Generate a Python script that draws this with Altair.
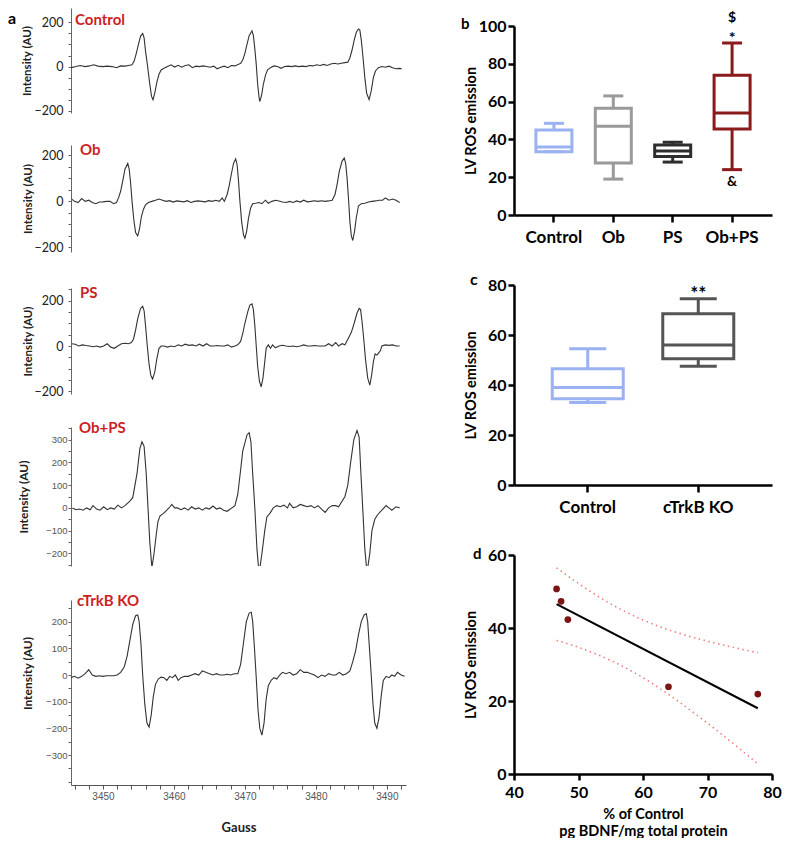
import altair as alt
import pandas as pd

LATO = "Lato"
SANS = "Liberation Sans"
RED = "#cc1f26"

# ---------------- panel a : EPR spectra (Gauss, intensity in AU) ----------------
gauss_domain = [3445.5, 3492.7]
gauss_ticks = list(range(3446, 3493, 2))

spec_control = [
    (3445.5, -5), (3446.2, 0), (3446.8, 5), (3447.5, 0), (3448.1, 3), (3448.7, 8), (3449.3, 2), (3450.0, 0),
    (3450.6, 2), (3451.3, 0), (3451.9, -5), (3452.5, 3), (3453.1, 2), (3453.6, 5),
    (3454.1, 8), (3454.4, 25), (3454.7, 60), (3455.0, 100), (3455.3, 138), (3455.6, 150), (3455.8, 130),
    (3456.0, 70), (3456.3, 0), (3456.6, -80), (3456.85, -135), (3457.05, -150), (3457.3, -120), (3457.6, -70),
    (3457.9, -35), (3458.2, -15), (3458.6, -8),
    (3459.1, 0), (3459.6, 8), (3460.1, -2), (3460.6, 6), (3461.1, -3), (3461.6, 5), (3462.1, 8), (3462.6, -5),
    (3463.1, 2), (3463.6, 0), (3464.1, 3), (3464.6, 0), (3465.1, -3), (3465.6, 2), (3466.1, -10), (3466.6, -3),
    (3467.1, 2), (3467.6, -5), (3468.1, 5), (3468.6, 3), (3469.1, 10), (3469.4, 15),
    (3469.7, 30), (3470.0, 60), (3470.3, 100), (3470.6, 140), (3471.0, 162), (3471.2, 140), (3471.4, 80),
    (3471.6, 10), (3471.8, -80), (3472.0, -140), (3472.1, -158), (3472.35, -130), (3472.6, -80), (3472.9, -40),
    (3473.2, -15), (3473.6, -5),
    (3474.1, 3), (3474.6, 0), (3475.1, -8), (3475.6, 0), (3476.1, 2), (3476.6, 0), (3477.1, 3), (3477.6, 0),
    (3478.1, 2), (3478.6, 0), (3479.1, 5), (3479.6, 3), (3480.1, 8), (3480.6, 5), (3481.1, 10), (3481.6, 5),
    (3482.1, 12), (3482.6, 15), (3483.1, 12), (3483.6, 15), (3484.1, 18), (3484.5, 20),
    (3484.8, 40), (3485.1, 75), (3485.4, 120), (3485.7, 155), (3486.0, 170), (3486.2, 165), (3486.4, 120),
    (3486.65, 40), (3486.9, -50), (3487.15, -120), (3487.5, -150), (3487.8, -110), (3488.1, -50), (3488.4, -20),
    (3488.8, -5),
    (3489.3, 0), (3489.8, -3), (3490.3, 2), (3490.8, -5), (3491.3, -10), (3491.8, -8), (3492.1, -10),
]

spec_ob = [
    (3445.6, 10), (3446.0, 0), (3446.5, -5), (3447.0, 12), (3447.5, 0), (3448.0, 5), (3448.5, -5), (3449.0, -10),
    (3449.5, -3), (3450.0, -2), (3450.5, 0), (3451.0, 0), (3451.5, -10), (3451.9, -5),
    (3452.2, 15), (3452.5, 45), (3452.8, 90), (3453.1, 140), (3453.5, 165), (3453.7, 140), (3453.9, 80),
    (3454.1, 0), (3454.35, -80), (3454.6, -135), (3454.9, -150), (3455.15, -120), (3455.4, -70), (3455.7, -35),
    (3456.0, -15), (3456.4, -5),
    (3456.9, 0), (3457.4, 5), (3457.9, 10), (3458.4, 5), (3458.9, 0), (3459.4, 3), (3459.9, -3), (3460.4, 2),
    (3460.9, 0), (3461.4, -2), (3461.9, 3), (3462.4, -5), (3462.9, 0), (3463.4, 2), (3463.9, 0), (3464.4, -2),
    (3464.9, 3), (3465.4, 0), (3465.9, 5), (3466.4, 0), (3466.8, 15), (3467.1, 0),
    (3467.5, 30), (3467.8, 70), (3468.1, 120), (3468.4, 165), (3468.7, 185), (3468.9, 160), (3469.1, 90),
    (3469.3, 0), (3469.55, -90), (3469.8, -145), (3470.0, -160), (3470.25, -130), (3470.5, -75), (3470.8, -30),
    (3471.1, -10),
    (3471.5, -8), (3472.0, -5), (3472.4, -10), (3472.9, 5), (3473.3, -8), (3473.8, 0), (3474.3, 5), (3474.8, 2),
    (3475.3, -3), (3475.8, -5), (3476.3, 0), (3476.8, -5), (3477.3, 2), (3477.8, -3), (3478.3, 5), (3478.8, -2),
    (3479.3, 0), (3479.8, 3), (3480.3, 0), (3480.8, 3), (3481.3, 0), (3481.8, 2), (3482.3, 5),
    (3482.7, 30), (3483.0, 75), (3483.3, 130), (3483.7, 175), (3484.0, 188), (3484.2, 165), (3484.4, 100),
    (3484.6, 10), (3484.8, -90), (3485.0, -150), (3485.2, -170), (3485.45, -130), (3485.7, -70), (3486.0, -20),
    (3486.4, -10),
    (3486.9, -8), (3487.4, -3), (3487.9, 0), (3488.4, 2), (3488.9, 5), (3489.4, 5), (3489.8, 15), (3490.3, 5),
    (3490.8, 10), (3491.3, 5), (3491.8, -5),
]

spec_ps = [
    (3445.6, 10), (3446.1, 8), (3446.6, 0), (3447.1, 5), (3447.6, 2), (3448.1, 0), (3448.6, -3), (3449.1, 0),
    (3449.6, -5), (3450.1, 0), (3450.6, 10), (3451.1, -5), (3451.6, -10), (3452.1, 0), (3452.6, 10), (3453.1, 12),
    (3453.6, 10), (3454.0, 15),
    (3454.3, 30), (3454.6, 70), (3454.9, 120), (3455.3, 165), (3455.6, 175), (3455.8, 155), (3456.0, 90),
    (3456.25, 0), (3456.5, -80), (3456.75, -130), (3457.0, -145), (3457.3, -115), (3457.6, -55), (3457.9, -10),
    (3458.2, 0),
    (3458.6, 0), (3459.1, -5), (3459.6, 0), (3460.1, -3), (3460.6, 5), (3461.1, 0), (3461.6, 8), (3462.1, 3),
    (3462.6, 5), (3463.1, 0), (3463.6, 8), (3464.1, 0), (3464.6, 10), (3465.1, 0), (3465.6, 0), (3466.1, 2),
    (3466.6, 0), (3467.1, 0), (3467.6, 5), (3468.1, -5), (3468.6, 0), (3469.0, 5),
    (3469.4, 20), (3469.7, 55), (3470.0, 100), (3470.4, 150), (3470.7, 180), (3471.0, 185), (3471.2, 160),
    (3471.4, 90), (3471.6, 0), (3471.8, -90), (3472.05, -155), (3472.3, -180), (3472.55, -140), (3472.8, -70),
    (3473.0, -10), (3473.3, 5),
    (3473.6, -10), (3473.9, 5), (3474.3, -8), (3474.8, 0), (3475.3, 3), (3475.8, 0), (3476.3, -2), (3476.8, 0),
    (3477.3, -3), (3477.8, 0), (3478.3, 5), (3478.8, 0), (3479.3, 0), (3479.8, 2), (3480.3, 0), (3480.8, 0),
    (3481.3, 0), (3481.8, 10), (3482.3, 0), (3482.8, 15), (3483.2, 0), (3483.7, 10), (3484.1, 5),
    (3484.6, 35), (3485.0, 60), (3485.4, 100), (3485.8, 145), (3486.1, 165), (3486.3, 160), (3486.5, 110),
    (3486.75, 30), (3487.0, -60), (3487.3, -140), (3487.6, -172), (3487.85, -130), (3488.1, -70), (3488.35, -35),
    (3488.6, -40), (3488.85, -30), (3489.1, -20), (3489.3, 0), (3489.8, 5), (3490.3, 3), (3490.8, 5),
    (3491.3, 0), (3491.8, 0),
]

spec_obps = [
    (3445.7, 0), (3446.2, -8), (3446.7, -5), (3447.2, -10), (3447.7, 0), (3448.2, -8), (3448.6, 10), (3449.1, -5),
    (3449.6, -10), (3450.1, 5), (3450.6, -8), (3451.1, 0), (3451.6, -5), (3452.1, 12), (3452.6, 0),
    (3453.1, 10), (3453.8, 30), (3454.2, 45), (3454.8, 150), (3455.2, 260), (3455.5, 290), (3455.8, 270),
    (3456.1, 150), (3456.35, 0), (3456.6, -150), (3456.9, -262), (3457.2, -200), (3457.5, -120), (3457.75, -60),
    (3458.05, -35), (3458.5, -25), (3459.0, -10), (3459.45, 5), (3459.7, 15), (3460.1, 0),
    (3460.5, 0), (3461.0, -8), (3461.5, 0), (3462.0, -10), (3462.5, 5), (3463.0, -5), (3463.5, 0), (3464.0, -10),
    (3464.5, 0), (3465.0, -5), (3465.5, 8), (3466.0, -5), (3466.5, 0), (3467.0, -10), (3467.5, -15),
    (3468.6, 10), (3469.0, 60), (3469.3, 140), (3469.7, 250), (3470.3, 320), (3470.6, 330), (3470.85, 290),
    (3471.1, 150), (3471.4, 0), (3471.7, -180), (3472.0, -290), (3472.4, -200), (3472.8, -100), (3473.1, -40),
    (3473.5, -25), (3474.0, 0), (3474.5, 10),
    (3475.0, 5), (3475.5, 12), (3476.0, 0), (3476.3, 20), (3476.8, 0), (3477.3, 5), (3477.8, 15), (3478.3, 10),
    (3478.8, 5), (3479.3, 10), (3479.8, 0), (3480.3, 10), (3480.8, -5), (3481.3, -20), (3481.8, 0), (3482.3, 10),
    (3482.8, 10), (3483.2, 5),
    (3484.1, 50), (3484.5, 100), (3484.9, 200), (3485.35, 300), (3485.8, 340), (3486.1, 310), (3486.35, 150),
    (3486.6, 0), (3486.9, -180), (3487.2, -285), (3487.6, -200), (3487.9, -100), (3488.3, -50), (3488.7, -30),
    (3489.3, -10), (3489.9, 10), (3490.3, 0), (3490.7, -10), (3491.3, 5), (3491.8, 0),
]

spec_ctrkb = [
    (3445.5, -10), (3446.0, -5), (3446.5, -12), (3447.0, -5), (3447.5, 5), (3448.0, 20), (3448.5, 0),
    (3449.0, -5), (3449.5, -3), (3450.0, -5), (3450.5, -3), (3451.0, -3), (3451.5, -3), (3452.0, 0),
    (3452.5, 10), (3453.0, 30),
    (3453.4, 70), (3453.8, 130), (3454.2, 190), (3454.6, 222), (3454.9, 225), (3455.1, 200), (3455.35, 120),
    (3455.6, 0), (3455.9, -110), (3456.2, -180), (3456.5, -195), (3456.8, -150), (3457.1, -80), (3457.4, -35),
    (3457.8, -15), (3458.2, -8),
    (3458.6, -10), (3459.0, -20), (3459.4, -5), (3459.8, -10), (3460.2, 0), (3460.6, -20), (3461.0, -10),
    (3461.5, -5), (3462.0, -5), (3462.5, 0), (3463.0, 5), (3463.5, 0), (3464.0, 15), (3464.5, 10), (3465.0, 5),
    (3465.5, 0), (3466.0, 5), (3466.5, 0), (3467.0, 0), (3467.5, 3), (3468.0, 0), (3468.5, 5), (3469.0, 5),
    (3469.4, 40), (3469.8, 120), (3470.2, 200), (3470.6, 232), (3470.9, 235), (3471.1, 200), (3471.35, 100),
    (3471.6, -10), (3471.85, -130), (3472.1, -200), (3472.4, -225), (3472.7, -180), (3473.0, -90), (3473.3, -40),
    (3473.7, -20), (3474.1, -10),
    (3474.5, -15), (3474.9, 0), (3475.3, 10), (3475.8, 5), (3476.3, 10), (3476.8, 0), (3477.3, 5), (3477.8, 20),
    (3478.3, 10), (3478.8, 10), (3479.3, 5), (3479.8, 0), (3480.3, -10), (3480.8, 0), (3481.3, -5), (3481.8, 5),
    (3482.3, 0), (3482.8, 0), (3483.3, 10), (3483.8, 0), (3484.3, 5), (3484.8, 15),
    (3485.2, 50), (3485.6, 90), (3486.0, 150), (3486.4, 200), (3486.8, 225), (3487.1, 230), (3487.3, 200),
    (3487.55, 100), (3487.8, 0), (3488.05, -110), (3488.3, -180), (3488.6, -200), (3488.9, -160), (3489.2, -80),
    (3489.5, -20), (3489.9, -5),
    (3490.3, -10), (3490.7, 0), (3491.1, -5), (3491.5, 10), (3492.0, 0), (3492.5, -5),
]

yticks_ctrl = [-200, -150, -100, -50, 0, 50, 100, 150, 200]
yticks_std = [-200, -150, -100, -50, 0, 50, 100, 150, 200, 250]
yticks_obps = [-250, -200, -150, -100, -50, 0, 50, 100, 150, 200, 250, 300, 350]
yticks_ctrkb = [-400, -350, -300, -250, -200, -150, -100, -50, 0, 50, 100, 150, 200, 250]

# ---------------- panel b ----------------
b_groups = ["Control", "Ob", "PS", "Ob+PS"]
b_lo = [33.5, 19.0, 28.0, 24.0]
b_q1 = [33.5, 27.5, 31.0, 45.5]
b_med = [36.0, 47.0, 33.8, 54.0]
b_q3 = [45.0, 56.5, 37.0, 74.0]
b_hi = [48.5, 63.0, 38.5, 91.0]
b_colors = ["#9ab1f2", "#9a9a9a", "#2e2e2e", "#8b1a1a"]
b_notes_grp = ["Ob+PS", "Ob+PS", "Ob+PS"]
b_notes_y = [104.0, 93.8, 17.2]
b_notes_txt = ["$", "*", "&"]
b_notes_fs = [14, 16, 14]

# ---------------- panel c ----------------
c_groups = ["Control", "cTrkB KO"]
c_lo = [33.0, 47.5]
c_q1 = [34.5, 50.5]
c_med = [39.0, 56.0]
c_q3 = [46.5, 68.5]
c_hi = [54.5, 74.5]
c_colors = ["#9ab1f2", "#555555"]
c_notes_grp = ["cTrkB KO"]
c_notes_y = [76.6]
c_notes_txt = ["**"]
c_notes_fs = [19]

# ---------------- panel d ----------------
d_bdnf = [46.6, 47.3, 48.35, 63.95, 77.8]
d_ros = [50.7, 47.3, 42.3, 23.9, 21.9]
ci_x = [46.6, 50, 55, 60, 65, 70, 75, 77.8]
ci_upper = [56.5, 52.2, 46.6, 42.2, 38.9, 36.4, 34.3, 33.2]
ci_lower = [36.6, 34.7, 31.1, 26.4, 20.5, 13.9, 6.9, 2.8]

one = pd.DataFrame({"k": [0]})


def spacer(x, y, baseline):
    return alt.Chart(one).mark_text(text=".", opacity=0, fontSize=8, align="left",
                                    baseline=baseline).encode(x=alt.value(x), y=alt.value(y))


def label(txt, x, y, size, color="black", baseline="alphabetic"):
    return alt.Chart(one).mark_text(text=txt, align="left", baseline=baseline, fontSize=size,
                                    fontWeight="bold", font=LATO, color=color).encode(
        x=alt.value(x), y=alt.value(y))


W_A = 335
A_LEFT = -63


def spectrum(pairs, name, h, ydom, yticks, lab_expr, small, top, bottom, title_x, name_x, name_y,
             title_y=None, show_x=False, letter=False):
    df = pd.DataFrame(pairs, columns=["g", "i"])
    if small:
        lab = dict(labelFont=SANS, labelFontSize=9.5, labelColor="#555555", labelPadding=1)
        tfs = 12
    else:
        lab = dict(labelFont=LATO, labelFontSize=12.5, labelColor="#222222", labelPadding=5)
        tfs = 11.5
    ykw = dict(values=yticks, labelExpr=lab_expr, format="d", title="Intensity (AU)", titleFont=LATO,
               titleFontSize=tfs, titleFontWeight="bold", titleColor="#222222", titleX=title_x,
               titleBaseline="middle", titleAngle=270, domainColor="#666666", tickColor="#666666",
               tickSize=3, grid=False, labelFlush=False, labelOverlap=False, **lab)
    if title_y is not None:
        ykw["titleY"] = title_y
    if show_x:
        xaxis = alt.Axis(values=gauss_ticks, labelExpr="datum.value % 10 === 0 ? datum.label : ''",
                         format="d", labelFont=SANS, labelFontSize=10, labelColor="#555555",
                         tickColor="#555555", domainColor="#555555", tickSize=4, labelPadding=2,
                         labelFlush=False, labelOverlap=False, grid=False,
                         title="Gauss", titleFont=LATO, titleFontSize=13, titleFontWeight="bold",
                         titleColor="#222222", titleY=36, titleBaseline="top")
    else:
        xaxis = None
    line = alt.Chart(df).mark_line(color="#333333", strokeWidth=1.1, clip=True).encode(
        x=alt.X("g:Q", scale=alt.Scale(domain=gauss_domain, nice=False, zero=False), axis=xaxis),
        y=alt.Y("i:Q", scale=alt.Scale(domain=ydom, nice=False, zero=False), axis=alt.Axis(**ykw)),
    )
    layers = [line, label(name, name_x, name_y, 15, color=RED)]
    if letter:
        layers.append(label("a", A_LEFT, 16, 16))
    layers.append(spacer(A_LEFT, -top, "top"))
    if bottom is not None:
        layers.append(spacer(A_LEFT, h + bottom, "bottom"))
    return alt.layer(*layers).properties(width=W_A, height=h)


p_ctrl = spectrum(spec_control, "Control", 105, [-210, 265], yticks_ctrl,
                  "datum.value % 200 === 0 ? datum.label : ''", False, 0, 8, -44, 4, 17, letter=True)
p_ob = spectrum(spec_ob, "Ob", 107, [-220, 245], yticks_std,
                "datum.value % 200 === 0 ? datum.label : ''", False, 24, 8, -43, 9, 10)
p_ps = spectrum(spec_ps, "PS", 106, [-211, 255], yticks_std,
                "datum.value % 200 === 0 ? datum.label : ''", False, 28, 8, -43, 9, 10)
p_obps = spectrum(spec_obps, "Ob+PS", 139, [-255, 355], yticks_obps,
                  "datum.value % 100 === 0 ? datum.label : ''", True, 25, 8, -48, 8, 6)
p_ctrkb = spectrum(spec_ctrkb, "cTrkB KO", 185, [-412, 281], yticks_ctrkb,
                   "datum.value % 100 === 0 && datum.value > -400 ? datum.label : ''", True, 26, None,
                   -44, 6, 6, title_y=73, show_x=True)

left = alt.vconcat(p_ctrl, p_ob, p_ps, p_obps, p_ctrkb, spacing=0)

# ---------------- right column ----------------
W_R = 258
R_LEFT = -53


def yaxis_r(vals):
    return alt.Axis(values=vals, title="LV ROS emission", titleFont=LATO, titleFontSize=14.5,
                    titleFontWeight="bold", titleColor="black", titleX=-43, titleBaseline="middle",
                    titleAngle=270, labelFont=LATO, labelFontSize=16, labelFontWeight="bold",
                    labelColor="black", labelPadding=2, tickSize=6, tickWidth=2.5, tickColor="black",
                    domainColor="black", domainWidth=2.5, grid=False, labelFlush=False)


def box_panel(groups, lo, q1, med, q3, hi, colors, ydom, yvals, h, pad_outer, box_w, cap_w,
              n_grp, n_y, n_txt, n_fs, letter, letter_x, letter_y, letter_fs, top, bottom):
    df = pd.DataFrame(dict(grp=groups, lo=lo, q1=q1, med=med, q3=q3, hi=hi))
    xaxis = alt.Axis(title=None, labelAngle=0, labelFont=LATO, labelFontSize=17, labelFontWeight="bold",
                     labelColor="black", labelPadding=7, tickSize=7, tickWidth=2.5, tickColor="black",
                     domainColor="black", domainWidth=2.5)
    xs = alt.Scale(domain=groups, paddingInner=0, paddingOuter=pad_outer)
    ys = alt.Scale(domain=ydom, nice=False)
    ya = yaxis_r(yvals)
    col = alt.Color("grp:N", scale=alt.Scale(domain=groups, range=colors), legend=None)
    X = alt.X("grp:N", sort=groups, scale=xs, axis=xaxis)

    def Y(f):
        return alt.Y(f, scale=ys, axis=ya)

    base = alt.Chart(df).encode(x=X, color=col)
    w_lo = base.mark_rule(strokeWidth=3).encode(y=Y("lo:Q"), y2="q1:Q")
    w_hi = base.mark_rule(strokeWidth=3).encode(y=Y("q3:Q"), y2="hi:Q")
    box = base.mark_bar(size=box_w, filled=False, strokeWidth=3, opacity=1).encode(y=Y("q1:Q"), y2="q3:Q")
    med_t = base.mark_tick(size=box_w, thickness=3, opacity=1).encode(y=Y("med:Q"))
    cap_l = base.mark_tick(size=cap_w, thickness=3, opacity=1).encode(y=Y("lo:Q"))
    cap_h = base.mark_tick(size=cap_w, thickness=3, opacity=1).encode(y=Y("hi:Q"))
    ndf = pd.DataFrame(dict(grp=n_grp, y=n_y, t=n_txt, fs=n_fs))
    notes = alt.Chart(ndf).mark_text(font=LATO, fontWeight="bold", color="black",
                                     baseline="middle").encode(
        x=X, y=Y("y:Q"), text="t:N", size=alt.Size("fs:Q", scale=None, legend=None))
    layers = [w_lo, w_hi, box, med_t, cap_l, cap_h, notes,
              label(letter, letter_x, letter_y, letter_fs),
              spacer(R_LEFT, -top, "top"), spacer(R_LEFT, h + bottom, "bottom")]
    return alt.layer(*layers).properties(width=W_R, height=h)


# tiny empty first row so that the right column's first plot is not forced level with panel a
top_pad = alt.Chart(one).mark_rule(opacity=0, strokeWidth=0).encode(
    x=alt.value(0), y=alt.value(0), y2=alt.value(1)).properties(width=W_R, height=1)

p_b = box_panel(b_groups, b_lo, b_q1, b_med, b_q3, b_hi, b_colors, [0, 100], [0, 20, 40, 60, 80, 100],
                189, 0.172, 36, 20, b_notes_grp, b_notes_y, b_notes_txt, b_notes_fs,
                "b", -53, 3, 15, 17, 34)
p_c = box_panel(c_groups, c_lo, c_q1, c_med, c_q3, c_hi, c_colors, [0, 80], [0, 20, 40, 60, 80],
                200, 0.167, 71, 37, c_notes_grp, c_notes_y, c_notes_txt, c_notes_fs,
                "c", -44, 0, 16, 36, 34)

# panel d
pts = pd.DataFrame({"bdnf": d_bdnf, "ros": d_ros})
ci_df = pd.DataFrame({"bdnf": ci_x + ci_x, "ros": ci_upper + ci_lower,
                      "band": ["upper"] * len(ci_x) + ["lower"] * len(ci_x)})
dxs = alt.Scale(domain=[40, 80], nice=False, zero=False)
dys = alt.Scale(domain=[0, 60], nice=False)
dxa = alt.Axis(values=[40, 50, 60, 70, 80], title=["% of Control", "pg BDNF/mg  total protein"],
               titleFont=LATO, titleFontSize=14.5, titleFontWeight="bold", titleColor="black",
               titleY=33, titleBaseline="top", titleLineHeight=17,
               labelFont=LATO, labelFontSize=16, labelFontWeight="bold", labelColor="black",
               labelPadding=4, tickSize=6, tickWidth=2.5, tickColor="black", domainColor="black",
               domainWidth=2.5, grid=False, labelFlush=False)
dya = yaxis_r([0, 20, 40, 60])
DX = alt.X("bdnf:Q", scale=dxs, axis=dxa)
DY = alt.Y("ros:Q", scale=dys, axis=dya)
ci_lines = alt.Chart(ci_df).mark_line(color="#ee8080", strokeWidth=1.6, strokeDash=[1.5, 3.5],
                                      interpolate="monotone").encode(x=DX, y=DY, detail="band:N")
reg = alt.Chart(pts).transform_regression("bdnf", "ros").mark_line(color="black", strokeWidth=2).encode(
    x=DX, y=DY)
dots = alt.Chart(pts).mark_circle(size=45, color="#7b1515", opacity=1).encode(x=DX, y=DY)
p_d = alt.layer(ci_lines, reg, dots, label("d", -41, 4, 15),
                spacer(R_LEFT, -36, "top")).properties(width=W_R, height=219)

right = alt.vconcat(top_pad, p_b, p_c, p_d, spacing=0).resolve_scale(color="independent")

chart = alt.hconcat(left, right, spacing=55).properties(
    padding={"left": 0, "top": 0, "right": 0, "bottom": 0}).configure_view(stroke=None)

chart.save("out.html", embed_options={"renderer": "svg", "actions": False})
